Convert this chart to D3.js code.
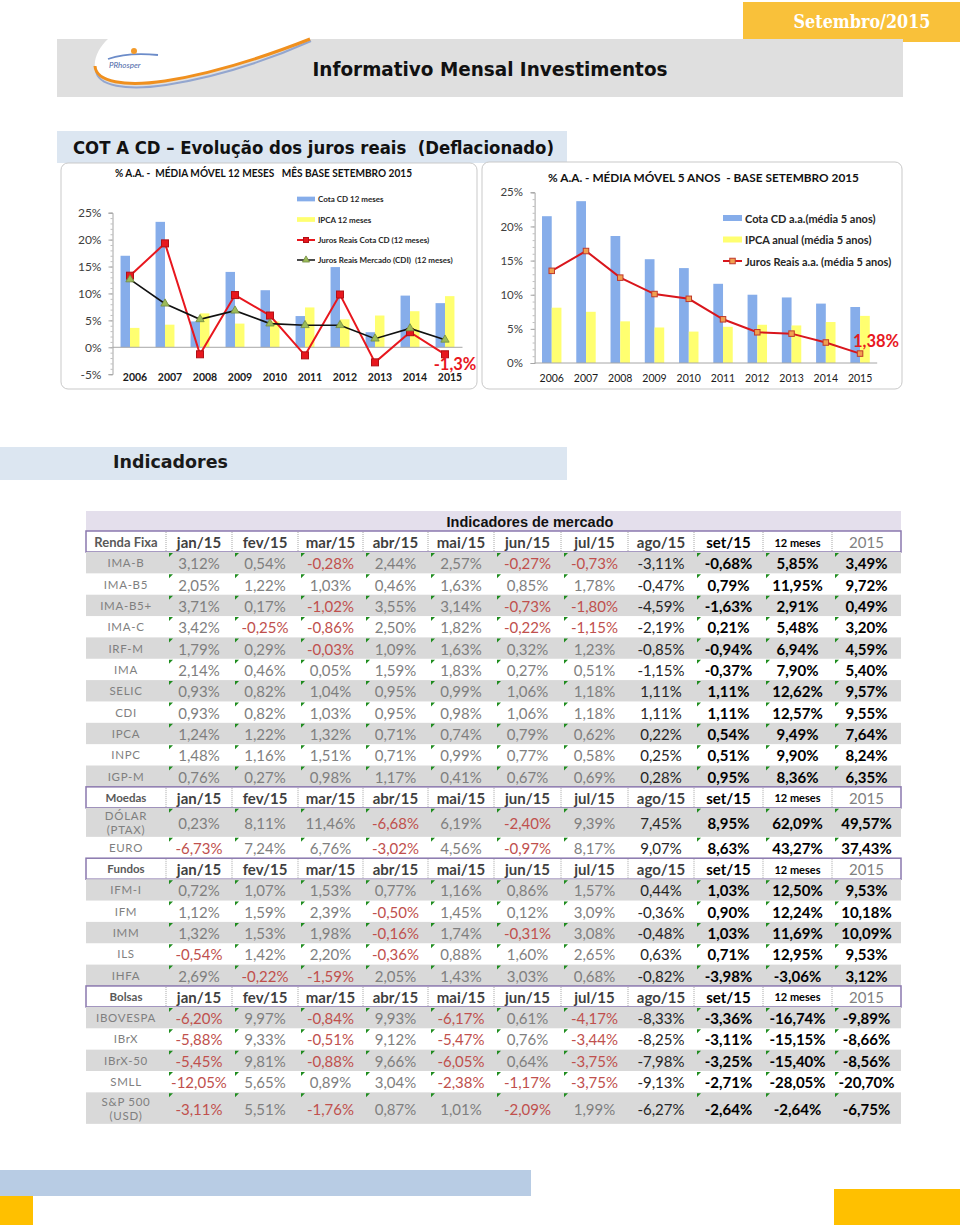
<!DOCTYPE html>
<html><head><meta charset="utf-8">
<script src="https://cdn.jsdelivr.net/npm/d3@7"></script>
<style>body{margin:0;background:#fff}svg{display:block}text{white-space:pre}</style>
</head><body>
<svg id="c" width="960" height="1225"></svg>
<script>
// ---------- DATA ----------
const years = ["2006","2007","2008","2009","2010","2011","2012","2013","2014","2015"];
// chart 1: média móvel 12 meses
const cota12m  = [17.0, 23.3, 4.8, 14.0, 10.6, 5.8, 14.9, 2.8, 9.6, 8.2];
const ipca12m  = [3.6, 4.2, 6.3, 4.4, 4.8, 7.4, 5.2, 5.9, 6.7, 9.5];
const juros12m = [13.3, 19.3, -1.3, 9.7, 5.9, -1.5, 9.8, -2.8, 2.8, -1.3];
const cdi12m   = [12.6, 8.1, 5.2, 6.8, 4.4, 4.1, 4.1, 1.6, 3.5, 1.4];
const ticks12m = [-5, 0, 5, 10, 15, 20, 25];
// chart 2: média móvel 5 anos
const cota5a  = [21.5, 23.7, 18.6, 15.2, 13.9, 11.6, 10.0, 9.6, 8.7, 8.2];
const ipca5a  = [8.1, 7.5, 6.1, 5.2, 4.6, 5.3, 5.6, 5.5, 6.0, 6.9];
const juros5a = [13.5, 16.4, 12.5, 10.1, 9.4, 6.4, 4.5, 4.3, 3.0, 1.38];
const ticks5a = [0, 5, 10, 15, 20, 25];

// table
const tableCols = ["jan/15","fev/15","mar/15","abr/15","mai/15","jun/15","jul/15","ago/15","set/15","12 meses","2015"];
const sectionNames = ["Renda Fixa","Moedas","Fundos","Bolsas"];
const rfLabels = ["IMA-B","IMA-B5","IMA-B5+","IMA-C","IRF-M","IMA","SELIC","CDI","IPCA","INPC","IGP-M"];
const rfValues = [
 [3.12,0.54,-0.28,2.44,2.57,-0.27,-0.73,-3.11,-0.68,5.85,3.49],
 [2.05,1.22,1.03,0.46,1.63,0.85,1.78,-0.47,0.79,11.95,9.72],
 [3.71,0.17,-1.02,3.55,3.14,-0.73,-1.80,-4.59,-1.63,2.91,0.49],
 [3.42,-0.25,-0.86,2.50,1.82,-0.22,-1.15,-2.19,0.21,5.48,3.20],
 [1.79,0.29,-0.03,1.09,1.63,0.32,1.23,-0.85,-0.94,6.94,4.59],
 [2.14,0.46,0.05,1.59,1.83,0.27,0.51,-1.15,-0.37,7.90,5.40],
 [0.93,0.82,1.04,0.95,0.99,1.06,1.18,1.11,1.11,12.62,9.57],
 [0.93,0.82,1.03,0.95,0.98,1.06,1.18,1.11,1.11,12.57,9.55],
 [1.24,1.22,1.32,0.71,0.74,0.79,0.62,0.22,0.54,9.49,7.64],
 [1.48,1.16,1.51,0.71,0.99,0.77,0.58,0.25,0.51,9.90,8.24],
 [0.76,0.27,0.98,1.17,0.41,0.67,0.69,0.28,0.95,8.36,6.35]
];
const moedasLabels = ["DÓLAR\n(PTAX)","EURO"];
const moedasValues = [
 [0.23,8.11,11.46,-6.68,6.19,-2.40,9.39,7.45,8.95,62.09,49.57],
 [-6.73,7.24,6.76,-3.02,4.56,-0.97,8.17,9.07,8.63,43.27,37.43]
];
const fundosLabels = ["IFM-I","IFM","IMM","ILS","IHFA"];
const fundosValues = [
 [0.72,1.07,1.53,0.77,1.16,0.86,1.57,0.44,1.03,12.50,9.53],
 [1.12,1.59,2.39,-0.50,1.45,0.12,3.09,-0.36,0.90,12.24,10.18],
 [1.32,1.53,1.98,-0.16,1.74,-0.31,3.08,-0.48,1.03,11.69,10.09],
 [-0.54,1.42,2.20,-0.36,0.88,1.60,2.65,0.63,0.71,12.95,9.53],
 [2.69,-0.22,-1.59,2.05,1.43,3.03,0.68,-0.82,-3.98,-3.06,3.12]
];
const bolsasLabels = ["IBOVESPA","IBrX","IBrX-50","SMLL","S&P 500\n(USD)"];
const bolsasValues = [
 [-6.20,9.97,-0.84,9.93,-6.17,0.61,-4.17,-8.33,-3.36,-16.74,-9.89],
 [-5.88,9.33,-0.51,9.12,-5.47,0.76,-3.44,-8.25,-3.11,-15.15,-8.66],
 [-5.45,9.81,-0.88,9.66,-6.05,0.64,-3.75,-7.98,-3.25,-15.40,-8.56],
 [-12.05,5.65,0.89,3.04,-2.38,-1.17,-3.75,-9.13,-2.71,-28.05,-20.70],
 [-3.11,5.51,-1.76,0.87,1.01,-2.09,1.99,-6.27,-2.64,-2.64,-6.75]
];

// ---------- DRAW ----------
const svg = d3.select("#c");
const loc = d3.formatLocale({decimal:",", thousands:".", grouping:[3], currency:["",""], minus:"-"});
const f2 = loc.format(".2f");
const BLUE = "#86ADEA", YEL = "#FFFF70", RED = "#E8171E";
const SANS = "Lato, 'Open Sans', sans-serif";
const COND = "'DejaVu Sans Condensed', 'DejaVu Sans', sans-serif";

// header
svg.append("rect").attr("x",743).attr("y",2).attr("width",217).attr("height",40).attr("fill","#F9C13A");
svg.append("text").attr("x",862).attr("y",28).attr("text-anchor","middle")
  .attr("font-family","'DejaVu Serif Condensed','DejaVu Serif',serif").attr("font-weight","bold")
  .attr("font-size",19).attr("fill","#fff").attr("textLength",137).attr("lengthAdjust","spacingAndGlyphs")
  .text("Setembro/2015");
svg.append("rect").attr("x",57).attr("y",39).attr("width",846).attr("height",58).attr("fill","#DFDFDF");
// logo
svg.append("path").attr("d","M108,39 C98,48 90,64 98,75 C110,88 165,84 222,68 C262,57 292,46 310,39 Z").attr("fill","#fff");
svg.append("path").attr("d","M95,68 C96,84 125,89 165,83 C222,74 272,56 310,39").attr("fill","none").attr("stroke","#93A6CF").attr("stroke-width",2).attr("transform","translate(1,2)");
svg.append("path").attr("d","M95,66 C96,82 125,87 165,81 C222,72 272,54 310,39").attr("fill","none").attr("stroke","#F0901E").attr("stroke-width",3);
svg.append("path").attr("d","M108,59 Q128,52 158,55").attr("fill","none").attr("stroke","#6C8CC9").attr("stroke-width",1.8);
svg.append("circle").attr("cx",134).attr("cy",51).attr("r",3).attr("fill","#F39A2A");
svg.append("text").attr("x",109).attr("y",68).attr("font-family",SANS).attr("font-style","italic").attr("font-size",8).attr("fill","#4A67A8").text("PRhosper");
svg.append("text").attr("x",490).attr("y",76).attr("text-anchor","middle").attr("font-family",COND).attr("font-weight","bold")
  .attr("font-size",19).attr("fill","#111").attr("textLength",355).attr("lengthAdjust","spacingAndGlyphs").text("Informativo Mensal Investimentos");

// section band 1
svg.append("rect").attr("x",57).attr("y",131).attr("width",510).attr("height",32).attr("fill","#DCE6F1");
svg.append("text").attr("x",73).attr("y",154).attr("font-family",COND).attr("font-weight","bold").attr("font-size",17)
  .attr("fill","#111").attr("textLength",481).attr("lengthAdjust","spacingAndGlyphs").text("COT A CD – Evolução dos juros reais  (Deflacionado)");

// ---------- chart helper ----------
function chart(o){
  const g = svg.append("g");
  g.append("rect").attr("x",o.box[0]).attr("y",o.box[1]).attr("width",o.box[2]).attr("height",o.box[3])
    .attr("rx",7).attr("fill","#fff").attr("stroke","#C9C9C9");
  g.append("text").attr("x",o.title.x).attr("y",o.title.y).attr("font-family",SANS).attr("font-weight","bold")
    .attr("font-size",o.title.fs).attr("fill","#111").attr("textLength",o.title.w).attr("lengthAdjust","spacingAndGlyphs").text(o.title.t);
  const x = d3.scaleBand().domain(years).range(o.xr).paddingInner(o.pi).paddingOuter(o.pi/2);
  const y = d3.scaleLinear().domain(o.yd).range(o.yr);
  const bw = x.bandwidth()/2;
  const cx = i => x(years[i]) + bw;
  // bars
  g.append("g").selectAll("rect").data(o.blue).join("rect")
    .attr("x",(d,i)=>x(years[i])).attr("width",bw)
    .attr("y",d=>y(Math.max(0,d))).attr("height",d=>Math.abs(y(d)-y(0))).attr("fill",BLUE);
  g.append("g").selectAll("rect").data(o.yellow).join("rect")
    .attr("x",(d,i)=>x(years[i])+bw).attr("width",bw)
    .attr("y",d=>y(Math.max(0,d))).attr("height",d=>Math.abs(y(d)-y(0))).attr("fill",YEL);
  // zero line
  g.append("line").attr("x1",o.xr[0]).attr("x2",o.xr[1]).attr("y1",y(0)).attr("y2",y(0)).attr("stroke","#A6A6A6");
  // y axis
  const minor = g.append("g").attr("transform",`translate(${o.xr[0]},0)`)
    .call(d3.axisLeft(y).tickValues(d3.range(o.yd[0],o.yd[1]+0.01,1)).tickSize(2).tickFormat(""));
  minor.select(".domain").remove(); minor.selectAll("line").attr("stroke","#BFBFBF");
  const ay = g.append("g").attr("transform",`translate(${o.xr[0]},0)`)
    .call(d3.axisLeft(y).tickValues(o.ticks).tickSize(4).tickPadding(o.tp).tickFormat(d=>d+"%"));
  ay.select(".domain").attr("stroke","#A6A6A6");
  ay.selectAll(".tick line").attr("stroke","#A6A6A6");
  ay.selectAll("text").attr("font-family",SANS).attr("font-size",o.yfs).attr("fill","#404040");
  // x axis labels
  const ax = g.append("g").attr("transform",`translate(0,${o.xlabY})`).call(d3.axisBottom(x).tickSize(0).tickPadding(0));
  ax.select(".domain").remove();
  ax.selectAll("text").attr("font-family",SANS).attr("font-size",10.5).attr("font-weight",o.xbold?"bold":"normal")
    .attr("fill","#1a1a1a").attr("dx",o.xdx);
  // lines
  o.lines.forEach(L=>{
    g.append("path").datum(L.data).attr("fill","none").attr("stroke",L.color).attr("stroke-width",L.sw)
      .attr("d",d3.line().x((d,i)=>cx(i)).y(d=>y(d)));
    if(L.marker==="square"){
      g.append("g").selectAll("rect").data(L.data).join("rect")
        .attr("x",(d,i)=>cx(i)-L.ms/2).attr("y",d=>y(d)-L.ms/2).attr("width",L.ms).attr("height",L.ms)
        .attr("fill",L.mfill).attr("stroke",L.mstroke).attr("stroke-width",1);
    } else {
      g.append("g").selectAll("path").data(L.data).join("path")
        .attr("d",d3.symbol(d3.symbolTriangle,L.ms)()).attr("transform",(d,i)=>`translate(${cx(i)},${y(d)})`)
        .attr("fill",L.mfill).attr("stroke",L.mstroke).attr("stroke-width",0.8);
    }
  });
  // legend
  o.legend.forEach((it,k)=>{
    const ly = o.leg.y[k];
    if(it.type==="bar"){
      g.append("rect").attr("x",o.leg.x).attr("y",ly-o.leg.h/2).attr("width",o.leg.w).attr("height",o.leg.h).attr("fill",it.color);
    } else {
      g.append("line").attr("x1",o.leg.x).attr("x2",o.leg.x+o.leg.w).attr("y1",ly).attr("y2",ly).attr("stroke",it.color).attr("stroke-width",it.sw);
      const mx = o.leg.x+o.leg.w/2;
      if(it.marker==="square") g.append("rect").attr("x",mx-it.ms/2).attr("y",ly-it.ms/2).attr("width",it.ms).attr("height",it.ms).attr("fill",it.mfill).attr("stroke",it.mstroke);
      else g.append("path").attr("d",d3.symbol(d3.symbolTriangle,it.ms)()).attr("transform",`translate(${mx},${ly})`).attr("fill",it.mfill).attr("stroke",it.mstroke).attr("stroke-width",0.8);
    }
    g.append("text").attr("x",o.leg.x+o.leg.w+3).attr("y",ly).attr("dominant-baseline","central")
      .attr("font-family",SANS).attr("font-weight","bold").attr("font-size",o.leg.fs).attr("fill","#262626").text(it.t);
  });
  // annotation of last real-interest value
  const last = o.lines[0].data.length-1, lv = o.lines[0].data[last];
  g.append("text").attr("x",cx(last)+o.ann.dx).attr("y",y(lv)+o.ann.dy).attr("text-anchor","middle")
    .attr("font-family",SANS).attr("font-weight","bold").attr("font-size",16.5).attr("fill",RED)
    .text(loc.format(o.ann.fmt)(lv)+"%");
}

chart({
  box:[61,163,416,226],
  title:{x:115,y:176.5,fs:10.5,w:297,t:"% A.A. -  MÉDIA MÓVEL 12 MESES   MÊS BASE SETEMBRO 2015"},
  xr:[112.5,462.5], pi:0.46, yd:[-5,25], yr:[374.2,212.7], ticks:ticks12m, tp:7, yfs:12,
  xlabY:374, xbold:true, xdx:5,
  blue:cota12m, yellow:ipca12m,
  lines:[
    {data:juros12m,color:RED,sw:2,marker:"square",ms:7,mfill:RED,mstroke:"#B01015"},
    {data:cdi12m,color:"#111",sw:1.6,marker:"tri",ms:30,mfill:"#9BBB59",mstroke:"#71893F"}
  ],
  leg:{x:297,y:[199,219.5,240,260],w:18,h:4.7,fs:8},
  legend:[
    {type:"bar",color:BLUE,t:"Cota CD 12 meses"},
    {type:"bar",color:YEL,t:"IPCA 12 meses"},
    {type:"line",color:RED,sw:2,marker:"square",ms:5,mfill:RED,mstroke:"#B01015",t:"Juros Reais Cota CD (12 meses)"},
    {type:"line",color:"#111",sw:1.5,marker:"tri",ms:22,mfill:"#9BBB59",mstroke:"#71893F",t:"Juros Reais Mercado (CDI)  (12 meses)"}
  ],
  ann:{dx:10,dy:15.5,fmt:".1f"}
});

chart({
  box:[482,162,420,227],
  title:{x:548,y:181.5,fs:12,w:311,t:"% A.A. - MÉDIA MÓVEL 5 ANOS  - BASE SETEMBRO 2015"},
  xr:[534.6,877.2], pi:0.433, yd:[0,25], yr:[363,192.3], ticks:ticks5a, tp:7.6, yfs:11.5,
  xlabY:375, xbold:false, xdx:0,
  blue:cota5a, yellow:ipca5a,
  lines:[
    {data:juros5a,color:"#D9161C",sw:2,marker:"square",ms:5.5,mfill:"#F0A050",mstroke:"#C0392B"}
  ],
  leg:{x:723,y:[218,239.5,261],w:19,h:6,fs:11},
  legend:[
    {type:"bar",color:BLUE,t:"Cota CD a.a.(média 5 anos)"},
    {type:"bar",color:YEL,t:"IPCA anual (média 5 anos)"},
    {type:"line",color:"#D9161C",sw:2,marker:"square",ms:5.5,mfill:"#F0A050",mstroke:"#C0392B",t:"Juros Reais a.a. (média 5 anos)"}
  ],
  ann:{dx:16,dy:-6.5,fmt:".2f"}
});

// section band 2
svg.append("rect").attr("x",0).attr("y",447).attr("width",567).attr("height",33).attr("fill","#DCE6F1");
svg.append("text").attr("x",113).attr("y",468).attr("font-family","'DejaVu Sans',sans-serif").attr("font-weight","bold")
  .attr("font-size",17).attr("fill","#1a1a1a").attr("textLength",115).attr("lengthAdjust","spacingAndGlyphs").text("Indicadores");

// ---------- table ----------
const colEdges = [86,166,232,298,363,428,494,561,628,694,763,832,901];
const T = svg.append("g");
T.append("rect").attr("x",86).attr("y",511).attr("width",815).attr("height",20).attr("fill","#E4DFEC");
T.append("text").attr("x",530).attr("y",526.5).attr("text-anchor","middle").attr("font-family","'Liberation Sans',Arial,sans-serif")
  .attr("font-weight","bold").attr("font-size",14.5).attr("fill","#111").text("Indicadores de mercado");

const sections = [
  {name:sectionNames[0], labels:rfLabels, values:rfValues},
  {name:sectionNames[1], labels:moedasLabels, values:moedasValues},
  {name:sectionNames[2], labels:fundosLabels, values:fundosValues},
  {name:sectionNames[3], labels:bolsasLabels, values:bolsasValues}
];
const HH = 21, RH = 21.35;
let yy = 531;
const cmid = j => (colEdges[j]+colEdges[j+1])/2;
sections.forEach((s,si)=>{
  const hg = T.append("g");
  hg.append("rect").attr("x",86).attr("y",yy).attr("width",815).attr("height",HH).attr("fill","#fff");
  for(let j=1;j<colEdges.length-1;j++){
    hg.append("line").attr("x1",colEdges[j]).attr("x2",colEdges[j]).attr("y1",yy+1).attr("y2",yy+HH-1)
      .attr("stroke","#A6A6A6").attr("stroke-dasharray","1,1");
  }
  hg.append("rect").attr("x",86).attr("y",yy).attr("width",815).attr("height",HH).attr("fill","none")
    .attr("stroke","#8A78AE").attr("stroke-width",1.5);
  hg.append("text").attr("x",cmid(0)).attr("y",yy+HH/2).attr("dominant-baseline","central").attr("text-anchor","middle")
    .attr("font-family",SANS).attr("font-weight","bold").attr("font-size",si===0?13:11.5).attr("fill","#595959").text(s.name);
  tableCols.forEach((c,j)=>{
    const is12 = c==="12 meses", isYr = j===tableCols.length-1, isSet = j===8;
    hg.append("text").attr("x",cmid(j+1)).attr("y",yy+HH/2+0.5).attr("dominant-baseline","central").attr("text-anchor","middle")
      .attr("font-family",SANS).attr("font-weight",isYr?"normal":"bold").attr("font-size",is12?11:15)
      .attr("fill",isYr?"#7F7F7F":(isSet||is12?"#000":"#3F3F3F")).text(c);
  });
  yy += HH;
  s.labels.forEach((lab,ri)=>{
    const two = lab.includes("\n");
    const h = two ? (si===1?29:31.5) : RH;
    const rg = T.append("g");
    if(ri%2===0) rg.append("rect").attr("x",86).attr("y",yy).attr("width",815).attr("height",h).attr("fill","#D9D9D9");
    const parts = lab.split("\n");
    parts.forEach((p,pi)=>{
      rg.append("text").attr("x",cmid(0)).attr("y",yy+h/2+(pi-(parts.length-1)/2)*14).attr("dominant-baseline","central")
        .attr("text-anchor","middle").attr("font-family",SANS).attr("font-size",11.5).attr("letter-spacing",0.7)
        .attr("fill","#7F7F7F").text(p);
    });
    s.values[ri].forEach((v,j)=>{
      const bold = j>=8, ago = j===7;
      const fill = bold ? "#000" : ago ? "#262626" : (v<0 ? "#C0504D" : "#7F7F7F");
      if(!ago){
        const tx = colEdges[j+1]+3, ty = yy+1;
        rg.append("path").attr("d",`M${tx},${ty}L${tx+4},${ty}L${tx},${ty+4}Z`).attr("fill","#1E8C1E");
      }
      rg.append("text").attr("x",cmid(j+1)).attr("y",yy+h/2+0.5).attr("dominant-baseline","central").attr("text-anchor","middle")
        .attr("font-family",SANS).attr("font-size",15).attr("font-weight",bold?"bold":"normal").attr("fill",fill)
        .text(f2(v)+"%");
    });
    yy += h;
  });
});

// footer
svg.append("rect").attr("x",0).attr("y",1170).attr("width",531).attr("height",26).attr("fill","#B8CCE4");
svg.append("rect").attr("x",0).attr("y",1196).attr("width",33).attr("height",29).attr("fill","#FFC000");
svg.append("rect").attr("x",834).attr("y",1189).attr("width",126).attr("height",36).attr("fill","#FFC000");
</script>
</body></html>
